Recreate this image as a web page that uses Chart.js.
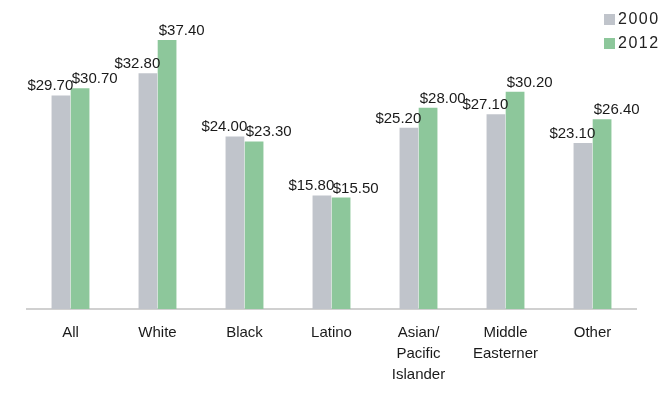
<!DOCTYPE html>
<html>
<head>
<meta charset="utf-8">
<script src="https://cdn.jsdelivr.net/npm/chart.js@4"></script>
<style>
  html, body { margin: 0; padding: 0; background: #fff; }
  #wrap { position: relative; width: 670px; height: 399px; }
  #legend { position: absolute; left: 604px; top: 7px; font: 16px "Liberation Sans", sans-serif; color: #222; letter-spacing: 1.5px; }
  #legend div { height: 24px; display: flex; align-items: center; }
  #legend span { display: inline-block; width: 11px; height: 11px; margin-right: 3px; }
</style>
</head>
<body>
<div id="wrap">
  <canvas id="chart" width="670" height="399"></canvas>
  <div id="legend">
    <div><span style="background:#c0c4cb"></span>2000</div>
    <div><span style="background:#8dc79b"></span>2012</div>
  </div>
</div>
<script>
// categories and values
const groups = ["All", "White", "Black", "Latino", ["Asian/", "Pacific", "Islander"], ["Middle", "Easterner"], "Other"];
const y2000 = [29.70, 32.80, 24.00, 15.80, 25.20, 27.10, 23.10];
const y2012 = [30.70, 37.40, 23.30, 15.50, 28.00, 30.20, 26.40];

const font = "Liberation Sans, Arial, sans-serif";

// dollar labels above each bar: 2000 ends at the bar's right edge, 2012 starts at its left edge
const valueLabels = {
  id: "valueLabels",
  afterDatasetsDraw(chart) {
    const ctx = chart.ctx;
    ctx.save();
    ctx.font = "15px " + font;
    ctx.fillStyle = "#1a1a1a";
    ctx.textBaseline = "alphabetic";
    chart.data.datasets.forEach((ds, i) => {
      chart.getDatasetMeta(i).data.forEach((bar, j) => {
        const txt = "$" + ds.data[j].toFixed(2);
        if (i === 0) {
          ctx.textAlign = "right";
          ctx.fillText(txt, bar.x + bar.width / 2 + 3, bar.y - 5);
        } else {
          ctx.textAlign = "left";
          ctx.fillText(txt, bar.x - bar.width / 2 + 1, bar.y - 5);
        }
      });
    });
    ctx.restore();
  }
};

new Chart(document.getElementById("chart"), {
  type: "bar",
  data: {
    labels: groups,
    datasets: [
      { label: "2000", data: y2000, backgroundColor: "#c0c4cb" },
      { label: "2012", data: y2012, backgroundColor: "#8dc79b" }
    ]
  },
  options: {
    responsive: false,
    animation: false,
    layout: { padding: { left: 27, right: 34, top: 7, bottom: 0 } },
    datasets: { bar: { categoryPercentage: 0.44, barPercentage: 0.98 } },
    plugins: { legend: { display: false }, tooltip: { enabled: false } },
    scales: {
      x: {
        grid: { display: false },
        border: { color: "#d0d0d0", width: 2 },
        ticks: { color: "#1a1a1a", font: { family: font, size: 15, lineHeight: 1.4 }, padding: 5, maxRotation: 0 },
        afterFit(scale) { scale.height = 90; }
      },
      y: { display: false, min: 0, max: 42 }
    }
  },
  plugins: [valueLabels]
});
</script>
</body>
</html>
